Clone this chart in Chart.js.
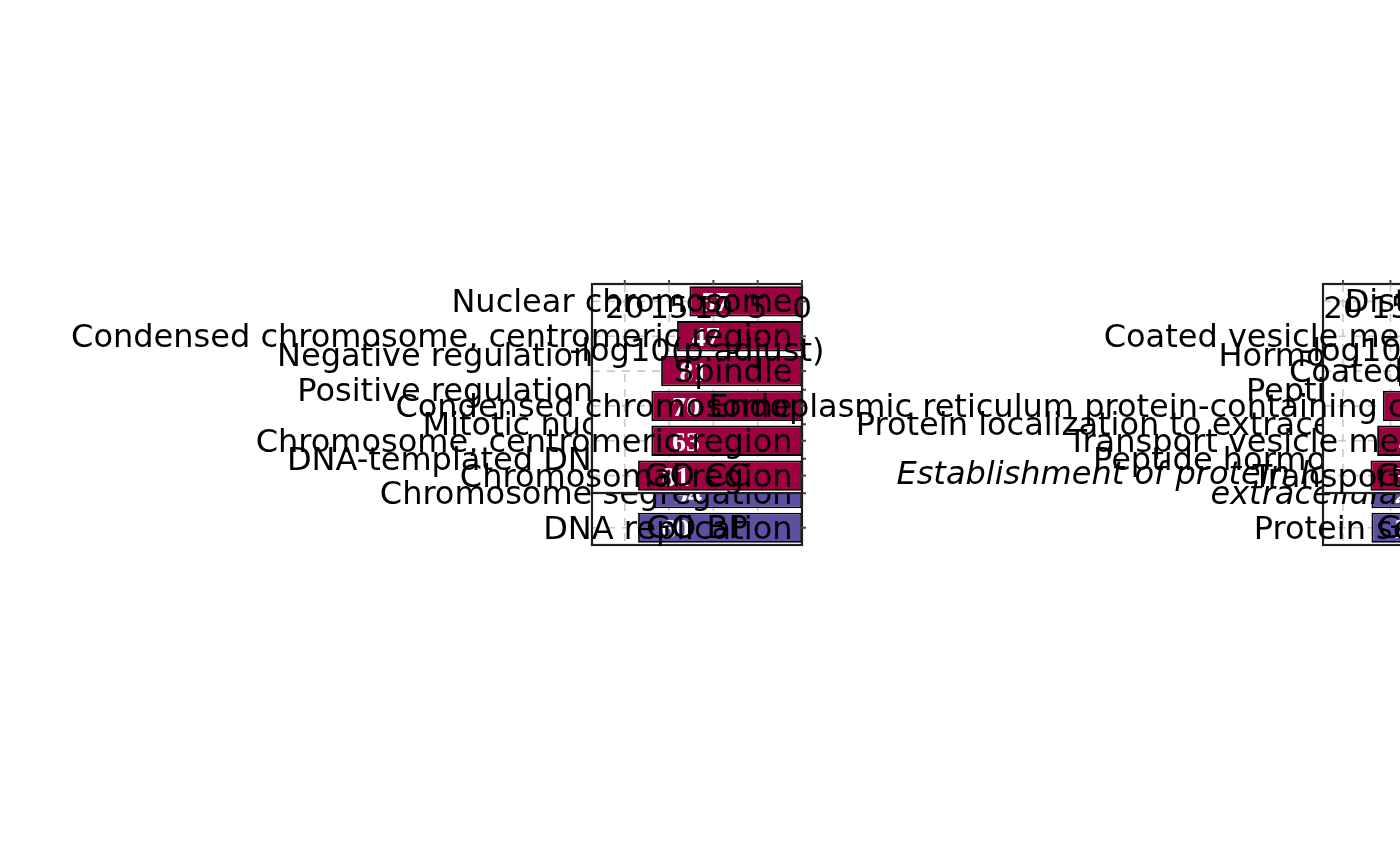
<!DOCTYPE html>
<html>
<head>
<meta charset="utf-8">
<script src="https://cdn.jsdelivr.net/npm/chart.js@4.4.1/dist/chart.umd.min.js"></script>
<style>
  html, body { margin: 0; padding: 0; background: #ffffff; width: 1400px; height: 866px; overflow: hidden; }
  #wrap { position: relative; width: 1400px; height: 866px; overflow: hidden; }
  canvas { position: absolute; left: 0; top: 0; }
</style>
</head>
<body>
<div id="wrap">
  <canvas id="lbp" width="1400" height="866"></canvas>
  <canvas id="lcc" width="1400" height="866"></canvas>
  <canvas id="rbp" width="1700" height="866"></canvas>
  <canvas id="rcc" width="1700" height="866"></canvas>
</div>
<script>
// ---------- data ----------
const xTicks = [20, 15, 10, 5, 0];
const axisTitle = "-log10(p.adjust)";
const stripCC = "GO CC";
const stripBP = "GO BP";

const leftCCTerms = ["Nuclear chromosome", "Condensed chromosome, centromeric region", "Spindle",
  "Condensed chromosome", "Chromosome, centromeric region", "Chromosomal region"];
const leftCCValues = [12.7, 14.1, 15.9, 17.0, 17.0, 18.5];
const leftCCCounts = [57, 47, 81, 70, 63, 81];

const leftBPTerms = ["Negative regulation of cell cycle", "Positive regulation of cell cycle",
  "Mitotic nuclear division", "DNA-templated DNA replication", "Chromosome segregation", "DNA replication"];
const leftBPValues = [13.2, 14.0, 15.1, 15.8, 16.7, 18.5];
const leftBPCounts = [52, 66, 58, 41, 94, 60];

const rightCCTerms = ["Distal axon", "Coated vesicle membrane", "Coated vesicle",
  "Endoplasmic reticulum protein-containing complex", "Transport vesicle membrane", "Transport vesicle"];
const rightCCValues = [11.4, 12.9, 14.1, 15.8, 16.4, 17.1];
const rightCCCounts = [25, 31, 36, 44, 41, 38];

const rightBPTerms = ["Hormone transport", "Peptide transport", "Protein localization to extracellular region",
  "Peptide hormone secretion", "Establishment of protein localization to\nextracellular region", "Protein secretion"];
const rightBPValues = [13.5, 14.6, 15.4, 16.2, 17.0, 17.0];
const rightBPCounts = [29, 33, 40, 27, 23, 27];

const colCC = "#9E0142";
const colBP = "#5E4FA2";

// ---------- drawing plugin ----------
const deco = {
  id: 'deco',
  beforeDatasetsDraw(chart, args, o) {
    const { ctx, chartArea: a, scales: { x, y } } = chart;
    ctx.save();
    ctx.fillStyle = '#ffffff';
    ctx.fillRect(a.left, a.top, a.right - a.left, a.bottom - a.top);
    ctx.strokeStyle = '#c9c9c9';
    ctx.lineWidth = 1.6;
    ctx.setLineDash([8, 7]);
    xTicks.forEach(t => {
      if (t === 0) return;
      const px = x.getPixelForValue(t);
      ctx.beginPath(); ctx.moveTo(px, a.top); ctx.lineTo(px, a.bottom); ctx.stroke();
    });
    y.getLabels().forEach((l, i) => {
      const py = y.getPixelForValue(i);
      ctx.beginPath(); ctx.moveTo(a.left, py); ctx.lineTo(a.right, py); ctx.stroke();
    });
    ctx.restore();
  },
  afterDatasetsDraw(chart, args, o) {
    const { ctx, chartArea: a, scales: { x, y } } = chart;
    const ds = chart.data.datasets[0];
    const labels = y.getLabels();
    ctx.save();
    // frame
    ctx.strokeStyle = '#1e1e1e';
    ctx.lineWidth = 2.2;
    ctx.strokeRect(a.left, a.top, a.right - a.left, a.bottom - a.top);
    // tick marks
    ctx.strokeStyle = '#444444';
    ctx.lineWidth = 2;
    if (o.axis) {
      xTicks.forEach(t => {
        const px = x.getPixelForValue(t);
        ctx.beginPath(); ctx.moveTo(px, a.top - 4); ctx.lineTo(px, a.top + 1); ctx.stroke();
      });
    }
    labels.forEach((l, i) => {
      const py = y.getPixelForValue(i);
      ctx.beginPath(); ctx.moveTo(a.right - 1, py); ctx.lineTo(a.right + 4, py); ctx.stroke();
    });
    // counts (white)
    ctx.fillStyle = '#ffffff';
    ctx.font = 'bold 28px "Liberation Serif", "DejaVu Serif", serif';
    ctx.textAlign = 'center';
    ctx.textBaseline = 'alphabetic';
    ds.data.forEach((v, i) => {
      const px = x.getPixelForValue(v * 0.77);
      const py = y.getPixelForValue(i);
      ctx.fillText(String(o.counts[i]), px, py + 10);
    });
    // term labels
    ctx.fillStyle = '#000000';
    ctx.textAlign = 'right';
    const anchor = x.getPixelForValue(0) - 9.5;
    labels.forEach((l, i) => {
      const py = y.getPixelForValue(i);
      const lines = String(l).split('\n');
      ctx.font = (o.italicRows.includes(i) ? 'italic ' : '') + '32px "DejaVu Sans"';
      lines.forEach((ln, k) => {
        const off = lines.length > 1 ? (k - (lines.length - 1) / 2) * 20 + 1 : 11;
        ctx.fillText(ln, anchor, py + off);
      });
    });
    // strip label
    ctx.font = '32px "DejaVu Sans"';
    ctx.textAlign = 'center';
    ctx.fillText(o.strip, (a.left + a.right) / 2, y.getPixelForValue(labels.length - 1) + 10);
    // axis tick labels and title
    if (o.axis) {
      ctx.font = '31px "DejaVu Sans"';
      xTicks.forEach(t => {
        ctx.fillText(String(t), x.getPixelForValue(t), a.top + 34);
      });
      ctx.font = '32px "DejaVu Sans"';
      ctx.fillText(axisTitle, (a.left + a.right) / 2, a.top + 77);
    }
    ctx.restore();
  }
};

function makeChart(id, terms, values, counts, color, xmax, pad, opts) {
  return new Chart(document.getElementById(id), {
    type: 'bar',
    data: {
      labels: terms,
      datasets: [{
        data: values,
        backgroundColor: color,
        borderColor: '#000000',
        borderWidth: 1.8,
        borderSkipped: false,
        barPercentage: 0.87,
        categoryPercentage: 1.0
      }]
    },
    options: {
      indexAxis: 'y',
      responsive: false,
      animation: false,
      devicePixelRatio: 1,
      layout: { padding: pad },
      scales: {
        x: { type: 'linear', min: 0, max: xmax, reverse: true, display: false },
        y: { type: 'category', offset: true, display: false }
      },
      plugins: {
        legend: { display: false },
        tooltip: { enabled: false },
        deco: Object.assign({ counts: counts }, opts)
      }
    },
    plugins: [deco]
  });
}

// left side: panels span x 592..802
makeChart('lbp', leftBPTerms, leftBPValues, leftBPCounts, colBP, 23.7,
  { left: 592, right: 1400 - 802, top: 338, bottom: 866 - 545 },
  { axis: false, strip: stripBP, italicRows: [] });
makeChart('lcc', leftCCTerms, leftCCValues, leftCCCounts, colCC, 23.7,
  { left: 592, right: 1400 - 802, top: 284, bottom: 866 - 493 },
  { axis: true, strip: stripCC, italicRows: [] });
// right side: panels span x 1323..1533 (partly outside the window)
makeChart('rbp', rightBPTerms, rightBPValues, rightBPCounts, colBP, 22.1,
  { left: 1323, right: 1700 - 1533, top: 338, bottom: 866 - 545 },
  { axis: false, strip: stripBP, italicRows: [4] });
makeChart('rcc', rightCCTerms, rightCCValues, rightCCCounts, colCC, 22.1,
  { left: 1323, right: 1700 - 1533, top: 284, bottom: 866 - 493 },
  { axis: true, strip: stripCC, italicRows: [] });
</script>
</body>
</html>
